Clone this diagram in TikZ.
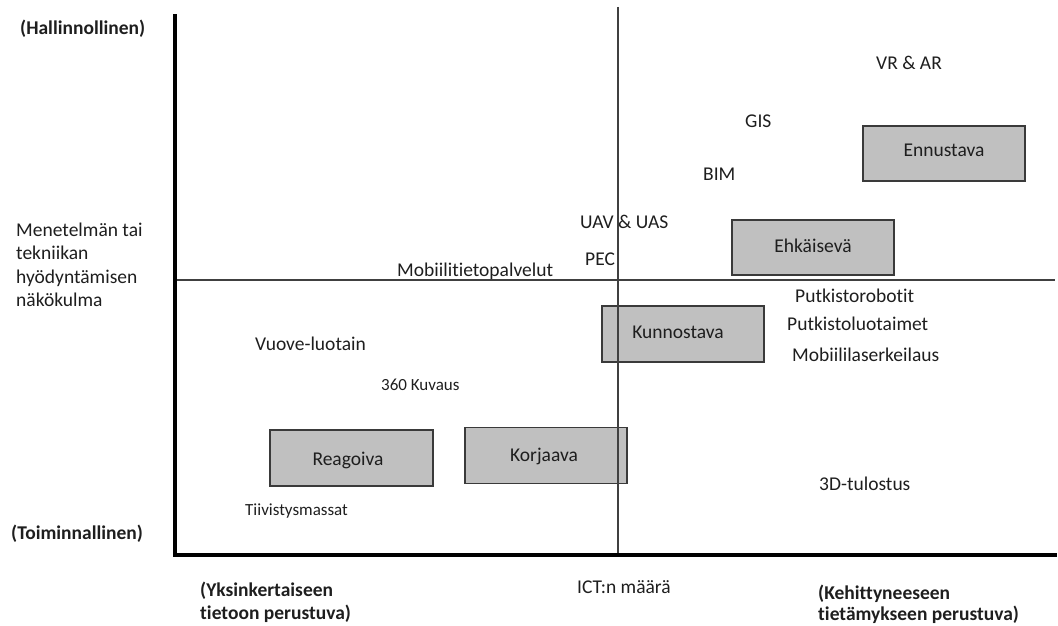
\documentclass[tikz,border=0pt]{standalone}
\usepackage{fontspec}
\setmainfont{Carlito}[Ligatures=NoCommon]
\definecolor{txt}{HTML}{1E1E1E}
\definecolor{boxfill}{HTML}{C0C0C0}
\definecolor{boxline}{HTML}{3A3A3A}
\definecolor{guide}{HTML}{404040}
\begin{document}
\begin{tikzpicture}[x=1pt,y=-1pt,
  every node/.style={inner sep=0pt, text=txt},
  lbl/.style={font=\fontsize{19.5}{23.5}\selectfont, anchor=base west},
  sml/.style={font=\fontsize{17}{20}\selectfont, anchor=base west},
  head/.style={font=\fontsize{19.5}{23.5}\selectfont\bfseries, anchor=base west},
  cat/.style={draw=boxline, fill=boxfill, line width=1.5pt},
  cattext/.style={font=\fontsize{19.5}{23.5}\selectfont, anchor=base},
  axis/.style={line width=4pt, black},
  split/.style={line width=1.4pt, guide}]
\useasboundingbox (0,0) rectangle (1058,626);

% corner and ends of the axes
\coordinate (O) at (175,555);
\coordinate (top) at (175,16);
\coordinate (right) at (1055,555);
\coordinate (mt) at (618,7);
\coordinate (mb) at (618,555);
\coordinate (ml) at (175,280);
\coordinate (mr) at (1055,280);

% category boxes
\node[cat, minimum width=162pt, minimum height=55pt] (ennustava) at (944,153.5) {};
\node[cat, minimum width=162pt, minimum height=55pt] (ehkaiseva) at (813,247.5) {};
\node[cat, minimum width=162pt, minimum height=56pt] (kunnostava) at (683,334) {};
\node[cat, minimum width=162pt, minimum height=56pt] (korjaava) at (546,455.5) {};
\node[cat, minimum width=163pt, minimum height=56pt] (reagoiva) at (351.5,458) {};

% box captions
\node[cattext] (ennustava-t) at (944,156.7) {Ennustava};
\node[cattext] (ehkaiseva-t) at (813,252) {Ehkäisevä};
\node[cattext] (kunnostava-t) at (678,338.7) {Kunnostava};
\node[cattext] (korjaava-t) at (544,461.7) {Korjaava};
\node[cattext] (reagoiva-t) at (348,465.3) {Reagoiva};

% quadrant dividers and axes
\draw[split] (mt) -- (mb);
\draw[split] (ml) -- (mr);
\draw[axis, line cap=rect] (top) -- (O) -- (right);

% axis labels
\node[head] (hall) at (20,35) {(Hallinnollinen)};
\node[head] (toim) at (11,539) {(Toiminnallinen)};
\node[lbl] (view) at (16,236) {Menetelmän tai};
\node[lbl] (view2) at (16,259.5) {tekniikan};
\node[lbl] (view3) at (16,283) {hyödyntämisen};
\node[lbl] (view4) at (16,306.5) {näkökulma};
\node[head] (simple) at (200,596) {(Yksinkertaiseen};
\node[head] (simple2) at (200,619.5) {tietoon perustuva)};
\node[lbl] (ict) at (577,593) {ICT:n määrä};
\node[head] (adv) at (818,599) {(Kehittyneeseen};
\node[head] (adv2) at (818,620.5) {tietämykseen perustuva)};

% methods and technologies
\node[lbl] (vrar) at (876,70) {VR \& AR};
\node[lbl] (gis) at (745,128) {GIS};
\node[lbl] (bim) at (703,180.5) {BIM};
\node[lbl] (uav) at (580,228) {UAV \& UAS};
\node[lbl] (pec) at (585,265) {PEC};
\node[lbl] (mobtp) at (397,276.5) {Mobiilitietopalvelut};
\node[lbl] (probo) at (795,302.5) {Putkistorobotit};
\node[lbl] (pluot) at (787,330.5) {Putkistoluotaimet};
\node[lbl] (mlaser) at (792,361.5) {Mobiililaserkeilaus};
\node[lbl] (vuove) at (255,350) {Vuove-luotain};
\node[sml] (kuvaus) at (381,390) {360 Kuvaus};
\node[sml] (tiivis) at (245,515.5) {Tiivistysmassat};
\node[lbl] (print) at (819,490) {3D-tulostus};
\end{tikzpicture}
\end{document}
